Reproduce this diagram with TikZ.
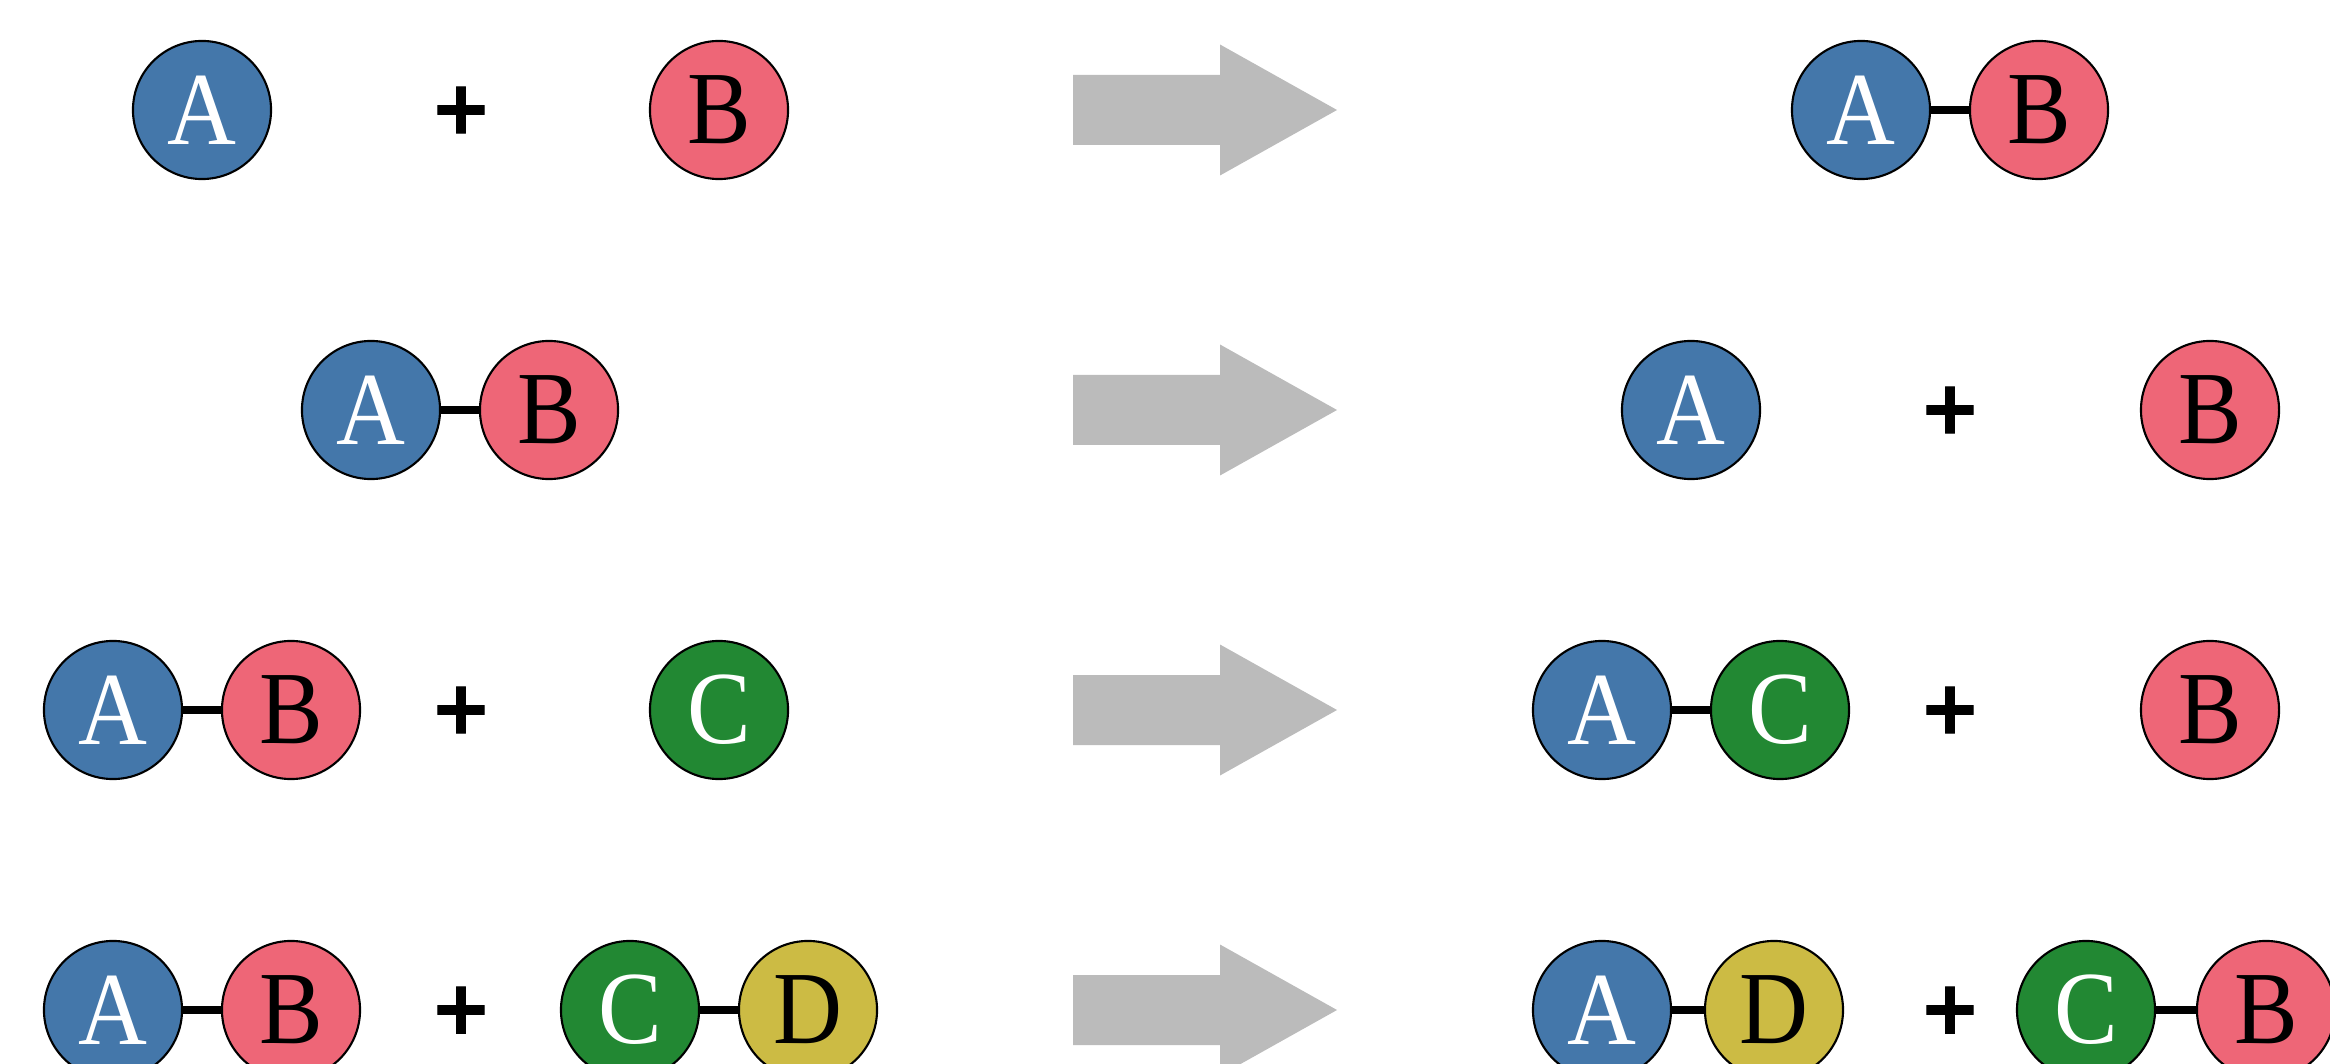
\documentclass[tikz,border=0pt]{standalone}
\usepackage{fontspec}
\setmainfont[FakeStretch=0.92]{Liberation Serif}
\newfontfamily\plusfont[FakeBold=1.6]{DejaVu Sans Bold}
\definecolor{tblue}{HTML}{4477AA}
\definecolor{tred}{HTML}{EE6677}
\definecolor{tgreen}{HTML}{228833}
\definecolor{tyellow}{HTML}{CCBB44}
\definecolor{tgray}{HTML}{BBBBBB}
\tikzset{
  atom/.style={circle, draw=black, line width=0.6pt, minimum size=1.38cm, inner sep=0pt,
    font=\fontsize{29.5}{29.5}\selectfont},
  atomA/.style={atom, fill=tblue, text=white},
  atomB/.style={atom, fill=tred, text=black},
  atomC/.style={atom, fill=tgreen, text=white},
  atomD/.style={atom, fill=tyellow, text=black},
  bond/.style={line width=2pt, black},
  plussign/.style={inner sep=0pt, font=\plusfont\fontsize{21}{21}\selectfont},
  bigarrow/.style={fill=tgray, draw=none}
}
\begin{document}
\begin{tikzpicture}[x=0.01cm, y=-0.01cm]
\useasboundingbox (0,0) rectangle (2330,1064);
% arrows
\foreach \y/\n in {110/1,410/2,710/3,1010/4}{
  \fill[bigarrow] (1073,\y-35) -- (1220,\y-35) -- (1220,\y-65.5) -- (1337,\y)
    -- (1220,\y+65.5) -- (1220,\y+35) -- (1073,\y+35) -- cycle;
}
% Row 1
\node[atomA] (r1a) at (202,110) {A};
\node[plussign] (r1p) at (461,110) {+};
\node[atomB] (r1b) at (719,110) {B};
\node[atomA] (r1ra) at (1861,110) {A};
\node[atomB] (r1rb) at (2039,110) {B};
\draw[bond] (r1ra) -- (r1rb);
% Row 2
\node[atomA] (r2a) at (371,410) {A};
\node[atomB] (r2b) at (549,410) {B};
\draw[bond] (r2a) -- (r2b);
\node[atomA] (r2ra) at (1691,410) {A};
\node[plussign] (r2rp) at (1950,410) {+};
\node[atomB] (r2rb) at (2210,410) {B};
% Row 3
\node[atomA] (r3a) at (113,710) {A};
\node[atomB] (r3b) at (291,710) {B};
\draw[bond] (r3a) -- (r3b);
\node[plussign] (r3p) at (461,710) {+};
\node[atomC] (r3c) at (719,710) {C};
\node[atomA] (r3ra) at (1602,710) {A};
\node[atomC] (r3rc) at (1780,710) {C};
\draw[bond] (r3ra) -- (r3rc);
\node[plussign] (r3rp) at (1950,710) {+};
\node[atomB] (r3rb) at (2210,710) {B};
% Row 4
\node[atomA] (r4a) at (113,1010) {A};
\node[atomB] (r4b) at (291,1010) {B};
\draw[bond] (r4a) -- (r4b);
\node[plussign] (r4p) at (461,1010) {+};
\node[atomC] (r4c) at (630,1010) {C};
\node[atomD] (r4d) at (808,1010) {D};
\draw[bond] (r4c) -- (r4d);
\node[atomA] (r4ra) at (1602,1010) {A};
\node[atomD] (r4rd) at (1774,1010) {D};
\draw[bond] (r4ra) -- (r4rd);
\node[plussign] (r4rp) at (1950,1010) {+};
\node[atomC] (r4rc) at (2086,1010) {C};
\node[atomB] (r4rb) at (2266,1010) {B};
\draw[bond] (r4rc) -- (r4rb);
\end{tikzpicture}
\end{document}
